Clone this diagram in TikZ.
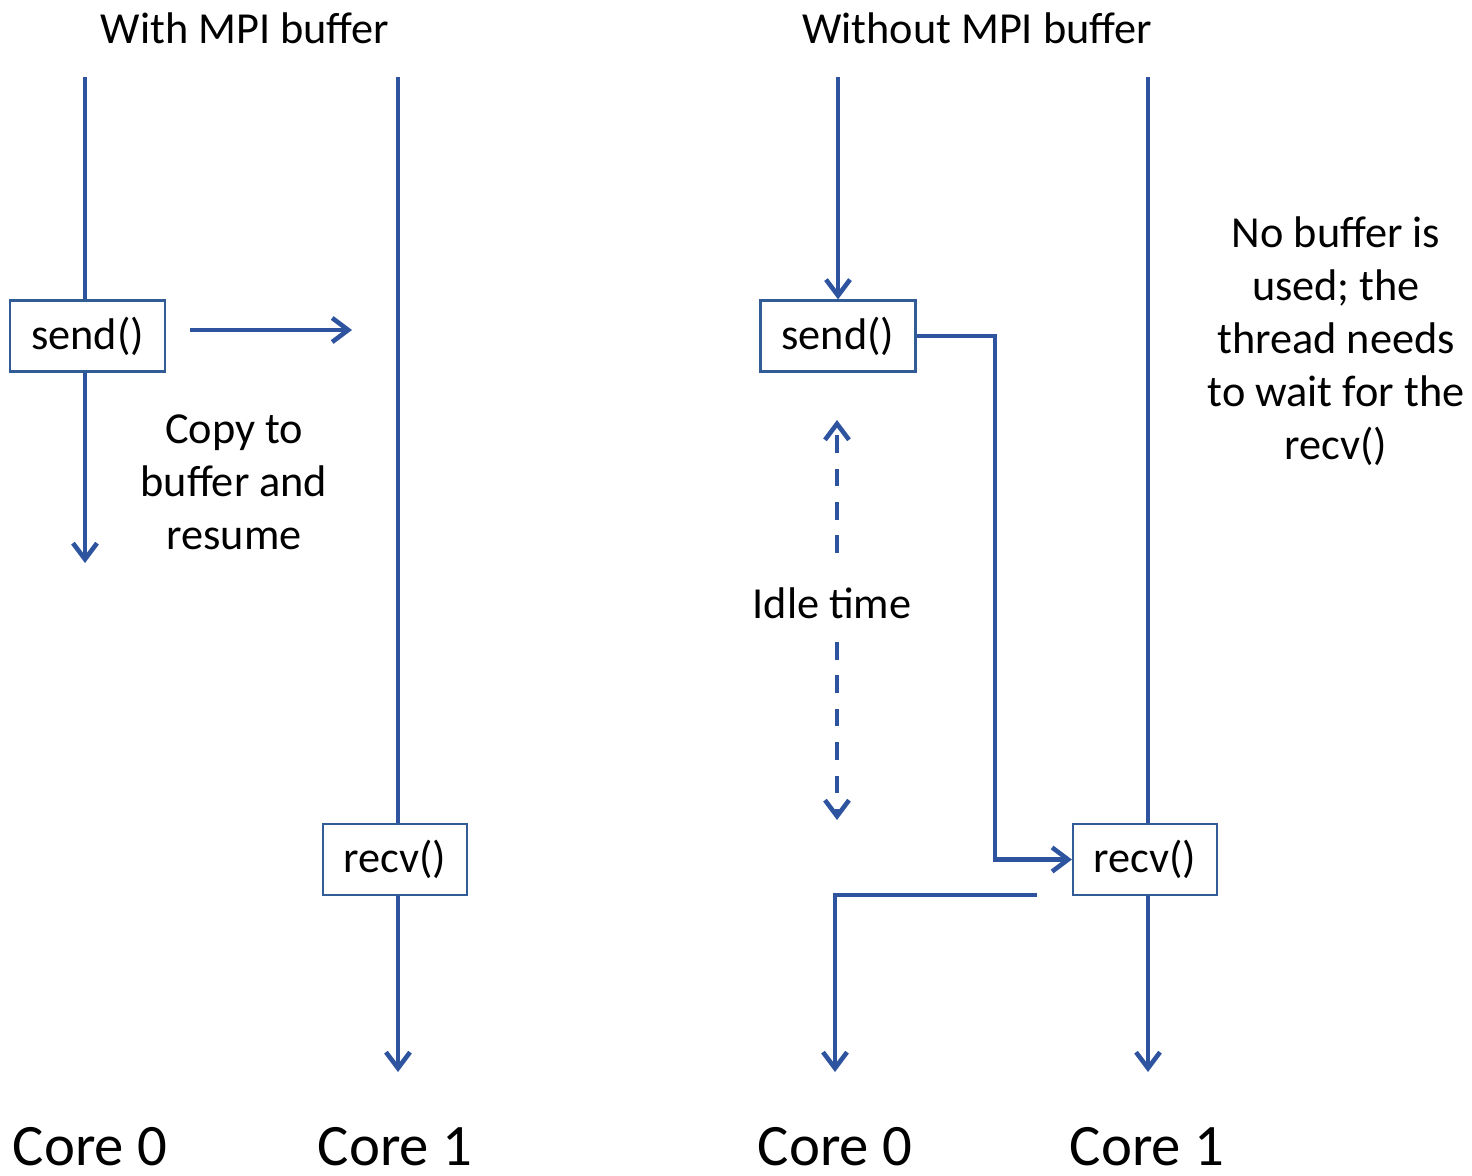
\documentclass[tikz,border=0pt]{standalone}
\usepackage{fontspec}
\setmainfont{Carlito}
\usetikzlibrary{arrows.meta,positioning}
\definecolor{lineblue}{RGB}{46,84,160}
\definecolor{boxblue}{RGB}{50,92,150}

\begin{document}
\begin{tikzpicture}[x=0.01cm,y=-0.01cm]
\tikzset{
  callbox/.style={rectangle,draw=boxblue,line width=0.6pt,fill=white,minimum width=1.52cm,minimum height=0.71cm,inner sep=1pt,font=\fontsize{12.6}{15}\selectfont},
  note/.style={align=center,inner sep=0pt,font=\fontsize{12.6}{15.1}\selectfont},
  corelabel/.style={inner sep=0pt,font=\fontsize{16.7}{20}\selectfont},
  flow/.style={draw=lineblue,line width=1.3pt,line cap=butt,line join=miter},
  flowarrow/.style={flow,-{Straight Barb[length=1.6mm,width=2.4mm]}},
  waitarrow/.style={flowarrow,dash pattern=on 5pt off 4.5pt}
}
\useasboundingbox (0,0) rectangle (1472,1176);
% left half: with buffer
\node[note] (n_titleA) at (245,28) {With MPI buffer};
\node[callbox,minimum width=1.55cm] (n_sendA) at (87.5,336) {send()};
\node[callbox,minimum width=1.44cm] (n_recvA) at (395,859.5) {recv()};
\node[note] (n_copy) at (234,482) {Copy to\\buffer and\\resume};
\node[corelabel] (n_coreA0) at (90,1147) {Core 0};
\node[corelabel] (n_coreA1) at (395,1147) {Core 1};
\coordinate (c_a0top) at (85,77);
\coordinate (c_a0end) at (85,563);
\coordinate (c_a1top) at (398,77);
\coordinate (c_a1end) at (398,1072);
\coordinate (c_copyfrom) at (190,330);
\coordinate (c_copyto) at (352,330);
\draw[flow] (c_a0top) -- (c_a0top |- n_sendA.north);
\draw[flowarrow] (c_a0top |- n_sendA.south) -- (c_a0end);
\draw[flowarrow] (c_copyfrom) -- (c_copyto);
\draw[flow] (c_a1top) -- (c_a1top |- n_recvA.north);
\draw[flowarrow] (c_a1top |- n_recvA.south) -- (c_a1end);
% right half: without buffer
\node[note] (n_titleB) at (977,28) {Without MPI buffer};
\node[callbox,minimum width=1.55cm] (n_sendB) at (838,336) {send()};
\node[callbox,minimum width=1.44cm] (n_recvB) at (1145,859.5) {recv()};
\node[note] (n_idle) at (832,603) {Idle time};
\node[note] (n_nobuf) at (1336,341) {No buffer is\\used; the\\thread needs\\to wait for the\\recv()};
\node[corelabel] (n_coreB0) at (835,1147) {Core 0};
\node[corelabel] (n_coreB1) at (1147,1147) {Core 1};
\coordinate (c_b0top) at (838,77);
\coordinate (c_b1top) at (1148,77);
\coordinate (c_b1end) at (1148,1072);
\coordinate (c_bend) at (995,600);
\coordinate (c_ret) at (1037,895);
\coordinate (c_b0end) at (835,1072);
\coordinate (c_idleup) at (837,420);
\coordinate (c_idledown) at (837,820);
\draw[flowarrow] (c_b0top) -- (n_sendB.north);
\draw[flowarrow] (n_sendB.east) -| (c_bend) |- (n_recvB.west);
\draw[flow] (c_b1top) -- (c_b1top |- n_recvB.north);
\draw[flowarrow] (c_b1top |- n_recvB.south) -- (c_b1end);
\draw[flowarrow] (c_ret) -| (c_b0end);
\draw[waitarrow] (837,553) -- (c_idleup);
\draw[waitarrow] (837,642) -- (c_idledown);
\end{tikzpicture}
\end{document}
